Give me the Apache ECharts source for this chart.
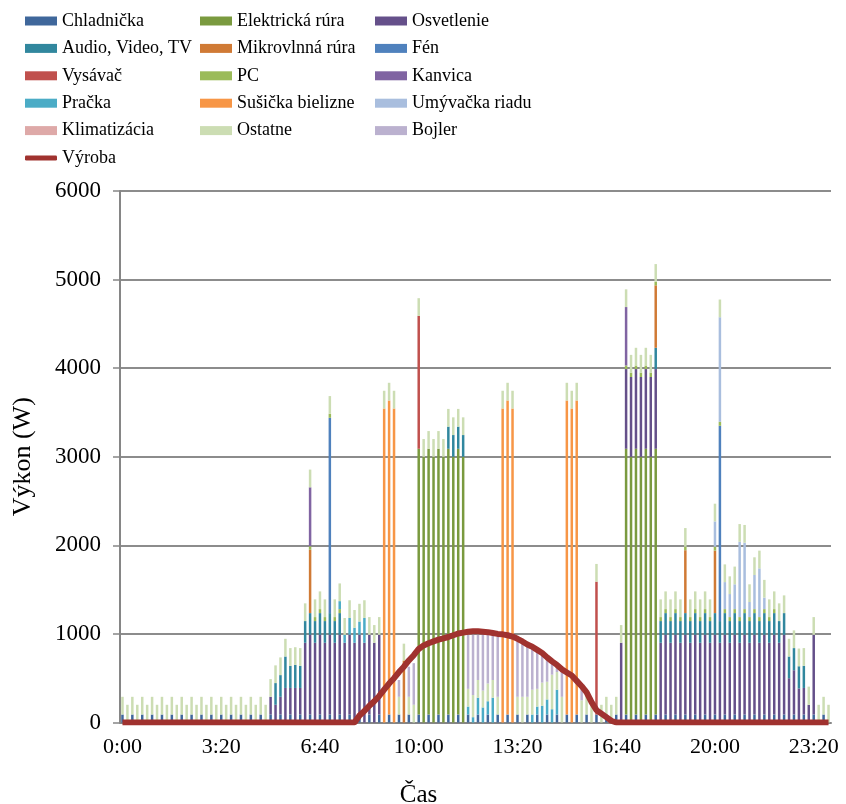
<!DOCTYPE html>
<html><head><meta charset="utf-8">
<script src="https://cdn.jsdelivr.net/npm/echarts@6/dist/echarts.min.js"></script>
<style>html,body{margin:0;padding:0;background:#fff}#c{width:846px;height:804px}</style>
</head><body><div id="c"></div>
<script>
// 144 ten-minute slots 0:00 .. 23:50
const tickLabels = ['0:00','3:20','6:40','10:00','13:20','16:40','20:00','23:20'];
const chladnicka = [
90,0,90,0,90,0,90,0,90,0,90,0, 90,0,90,0,90,0,90,0,90,0,90,0, 90,0,90,0,90,0,90,0,90,0,90,0,
90,0,90,0,90,0,90,0,90,0,90,0, 90,0,90,0,90,0,90,0,90,0,90,0, 90,0,90,0,90,0,90,0,90,0,90,0,
90,0,90,0,90,0,90,0,90,0,90,0, 90,0,90,0,90,0,90,0,90,0,90,0, 90,0,90,0,90,0,90,0,90,0,90,0,
90,0,90,0,90,0,90,0,90,0,90,0, 90,0,90,0,90,0,90,0,90,0,90,0, 90,0,90,0,90,0,90,0,90,0,90,0];
const elektrickaRura = [
0,0,0,0,0,0,0,0,0,0,0,0, 0,0,0,0,0,0,0,0,0,0,0,0, 0,0,0,0,0,0,0,0,0,0,0,0,
0,0,0,0,0,0,0,0,0,0,0,0, 0,0,0,0,0,0,0,0,0,0,0,0, 3000,3000,3000,3000,3000,3000,3000,3000,3000,3000,0,0,
0,0,0,0,0,0,0,0,0,0,0,0, 0,0,0,0,0,0,0,0,0,0,0,0, 0,0,0,0,0,0,3000,3000,3000,3000,3000,3000,
3000,0,0,0,0,0,0,0,0,0,0,0, 0,0,0,0,0,0,0,0,0,0,0,0, 0,0,0,0,0,0,0,0,0,0,0,0];
const osvetlenie = [
0,0,0,0,0,0,0,0,0,0,0,0, 0,0,0,0,0,0,0,0,0,0,0,0, 0,0,0,0,0,0,200,200,200,390,300,390,
300,900,900,900,900,900,900,900,900,900,900,900, 900,900,900,900,900,0,0,0,0,0,0,0, 0,0,0,0,0,0,0,0,0,0,0,0,
0,0,0,0,0,0,0,0,0,0,0,0, 0,0,0,0,0,0,0,0,0,0,0,0, 0,0,0,0,0,900,900,900,900,900,900,900,
900,900,900,900,900,900,900,900,900,900,900,900, 900,900,900,900,900,900,900,900,900,900,900,900, 900,900,900,500,500,385,300,200,900,0,0,0];
const audio = [
0,0,0,0,0,0,0,0,0,0,0,0, 0,0,0,0,0,0,0,0,0,0,0,0, 0,0,0,0,0,0,0,245,245,355,250,260,
250,245,245,245,245,245,245,245,245,0,0,0, 0,0,0,0,0,0,0,0,0,0,0,0, 0,0,0,0,0,0,250,245,250,245,0,0,
0,0,0,0,0,0,0,0,0,0,0,0, 0,0,0,0,0,0,0,0,0,0,0,0, 0,0,0,0,0,0,0,0,0,0,0,0,
240,245,245,245,245,245,245,245,245,245,245,245, 245,245,245,245,245,245,245,245,245,245,245,245, 245,245,245,245,250,250,250,0,0,0,0,0];
const mikrovlnna = [
0,0,0,0,0,0,0,0,0,0,0,0, 0,0,0,0,0,0,0,0,0,0,0,0, 0,0,0,0,0,0,0,0,0,0,0,0,
0,0,715,0,0,0,0,0,0,0,0,0, 0,0,0,0,0,0,0,0,0,700,0,0, 0,0,0,0,0,0,0,0,0,0,0,0,
0,0,0,0,0,0,0,0,0,0,0,0, 0,0,0,0,0,0,0,0,0,0,0,0, 0,0,0,0,0,0,0,0,0,0,0,0,
705,0,0,0,0,0,710,0,0,0,0,0, 705,0,0,0,0,0,0,0,0,0,0,0, 0,0,0,0,0,0,0,0,0,0,0,0];
const fen = [
0,0,0,0,0,0,0,0,0,0,0,0, 0,0,0,0,0,0,0,0,0,0,0,0, 0,0,0,0,0,0,0,0,0,0,0,0,
0,0,0,0,0,0,2205,0,0,0,0,0, 0,0,0,0,0,0,0,0,0,0,0,0, 0,0,0,0,0,0,0,0,0,0,0,0,
0,0,0,0,0,0,0,0,0,0,0,0, 0,0,0,0,0,0,0,0,0,0,0,0, 0,0,0,0,0,0,0,0,0,0,0,0,
0,0,0,0,0,0,0,0,0,0,0,0, 0,2205,0,0,0,0,0,0,0,0,0,0, 0,0,0,0,0,0,0,0,0,0,0,0];
const vysavac = [
0,0,0,0,0,0,0,0,0,0,0,0, 0,0,0,0,0,0,0,0,0,0,0,0, 0,0,0,0,0,0,0,0,0,0,0,0,
0,0,0,0,0,0,0,0,0,0,0,0, 0,0,0,0,0,0,0,0,0,0,0,0, 1500,0,0,0,0,0,0,0,0,0,0,0,
0,0,0,0,0,0,0,0,0,0,0,0, 0,0,0,0,0,0,0,0,0,0,0,0, 1500,0,0,0,0,0,0,0,0,0,0,0,
0,0,0,0,0,0,0,0,0,0,0,0, 0,0,0,0,0,0,0,0,0,0,0,0, 0,0,0,0,0,0,0,0,0,0,0,0];
const pc = [
0,0,0,0,0,0,0,0,0,0,0,0, 0,0,0,0,0,0,0,0,0,0,0,0, 0,0,0,0,0,0,0,0,0,0,0,0,
0,0,40,45,45,45,45,45,45,0,0,0, 0,0,0,0,0,0,0,0,0,0,0,0, 0,0,0,0,0,0,0,0,0,0,0,0,
0,0,0,0,0,0,0,0,0,0,0,0, 0,0,0,0,0,0,0,0,0,0,0,0, 0,0,0,0,0,0,40,50,40,50,40,50,
40,45,45,45,45,45,40,45,45,45,45,45, 45,45,45,45,45,45,45,45,45,45,45,45, 45,0,0,0,0,0,0,0,0,0,0,0];
const kanvica = [
0,0,0,0,0,0,0,0,0,0,0,0, 0,0,0,0,0,0,0,0,0,0,0,0, 0,0,0,0,0,0,0,0,0,0,0,0,
0,0,665,0,0,0,0,0,0,0,0,0, 0,0,0,0,0,0,0,0,0,0,0,0, 0,0,0,0,0,0,0,0,0,0,0,0,
0,0,0,0,0,0,0,0,0,0,0,0, 0,0,0,0,0,0,0,0,0,0,0,0, 0,0,0,0,0,0,660,0,0,0,0,0,
0,0,0,0,0,0,0,0,0,0,0,0, 0,0,0,0,0,0,0,0,0,0,0,0, 0,0,0,0,0,0,0,0,0,0,0,0];
const pracka = [
0,0,0,0,0,0,0,0,0,0,0,0, 0,0,0,0,0,0,0,0,0,0,0,0, 0,0,0,0,0,0,0,0,0,0,0,0,
0,0,0,0,0,0,0,0,90,90,190,170, 150,280,0,0,0,0,0,0,0,0,0,0, 0,0,0,0,0,0,0,0,0,0,90,60,
190,170,150,280,0,0,0,0,0,0,0,90, 90,190,170,150,280,0,0,0,0,0,0,0, 0,0,0,0,0,0,0,0,0,0,0,0,
0,0,0,0,0,0,0,0,0,0,0,0, 0,0,0,0,0,0,0,0,0,0,0,0, 0,0,0,0,0,0,0,0,0,0,0,0];
const susicka = [
0,0,0,0,0,0,0,0,0,0,0,0, 0,0,0,0,0,0,0,0,0,0,0,0, 0,0,0,0,0,0,0,0,0,0,0,0,
0,0,0,0,0,0,0,0,0,0,0,0, 0,0,0,0,0,3545,3545,3545,0,0,0,0, 0,0,0,0,0,0,0,0,0,0,0,0,
0,0,0,0,0,3545,3545,3545,0,0,0,0, 0,0,0,0,0,0,3545,3545,3545,0,0,0, 0,0,0,0,0,0,0,0,0,0,0,0,
0,0,0,0,0,0,0,0,0,0,0,0, 0,0,0,0,0,0,0,0,0,0,0,0, 0,0,0,0,0,0,0,0,0,0,0,0];
const umyvacka = [
0,0,0,0,0,0,0,0,0,0,0,0, 0,0,0,0,0,0,0,0,0,0,0,0, 0,0,0,0,0,0,0,0,0,0,0,0,
0,0,0,0,0,0,0,0,0,0,0,0, 0,0,0,0,0,0,0,0,0,0,0,0, 0,0,0,0,0,0,0,0,0,0,0,0,
0,0,0,0,0,0,0,0,0,0,0,0, 0,0,0,0,0,0,0,0,0,0,0,0, 0,0,0,0,0,0,0,0,0,0,0,0,
0,0,0,0,0,0,0,0,0,0,0,0, 285,1180,305,260,280,850,750,170,385,550,130,0, 0,0,0,0,0,0,0,0,0,0,0,0];
const klimatizacia = [
0,0,0,0,0,0,0,0,0,0,0,0, 0,0,0,0,0,0,0,0,0,0,0,0, 0,0,0,0,0,0,0,0,0,0,0,0,
0,0,0,0,0,0,0,0,0,0,0,0, 0,0,0,0,0,0,0,0,0,0,0,0, 0,0,0,0,0,0,0,0,0,0,0,0,
0,0,0,0,0,0,0,0,0,0,0,0, 0,0,0,0,0,0,0,0,0,0,0,0, 0,0,0,0,0,0,0,0,0,0,0,0,
0,0,0,0,0,0,0,0,0,0,0,0, 0,0,0,0,0,0,0,0,0,0,0,0, 0,0,0,0,0,0,0,0,0,0,0,0];
const ostatne = [
200,200,200,200,200,200,200,200,200,200,200,200, 200,200,200,200,200,200,200,200,200,200,200,200, 200,200,200,200,200,200,200,200,200,200,200,200,
200,200,200,200,200,200,200,200,200,190,200,200, 200,200,200,200,200,200,200,200,200,190,200,200, 200,200,200,200,200,200,200,200,200,200,200,250,
200,190,200,200,200,200,200,200,200,290,200,280, 200,260,200,390,200,290,200,200,200,250,200,280, 200,200,200,200,200,200,200,200,200,200,200,200,
200,200,200,200,200,200,210,200,200,200,200,200, 200,200,200,200,200,200,200,200,200,200,200,200, 200,200,200,200,200,200,200,205,200,200,200,200];
const bojler = [
0,0,0,0,0,0,0,0,0,0,0,0, 0,0,0,0,0,0,0,0,0,0,0,0, 0,0,0,0,0,0,0,0,0,0,0,0,
0,0,0,0,0,0,0,0,0,0,0,0, 0,0,0,0,0,0,0,0,190,0,340,470, 0,0,0,0,0,0,0,0,0,0,610,680,
510,630,550,510,700,0,0,0,620,595,565,470, 425,310,265,150,50,285,0,0,0,150,90,0, 0,0,0,0,0,0,0,0,0,0,0,0,
0,0,0,0,0,0,0,0,0,0,0,0, 0,0,0,0,0,0,0,0,0,0,0,0, 0,0,0,0,0,0,0,0,0,0,0,0];
const vyroba = [
0,0,0,0,0,0,0,0,0,0,0,0, 0,0,0,0,0,0,0,0,0,0,0,0, 0,0,0,0,0,0,0,0,0,0,0,0,
0,0,0,0,0,0,0,0,0,0,0,0, 80,130,190,240,300,370,440,500,570,630,700,760, 830,870,895,915,935,950,965,985,1005,1015,1025,1030,
1030,1025,1020,1010,1000,995,985,970,945,915,880,855, 820,785,735,690,650,600,565,530,470,410,340,230, 140,100,60,20,0,0,0,0,0,0,0,0,
0,0,0,0,0,0,0,0,0,0,0,0, 0,0,0,0,0,0,0,0,0,0,0,0, 0,0,0,0,0,0,0,0,0,0,0,0];

const categories = [];
for (let i = 0; i < 144; i++) {
  const h = Math.floor(i / 6), m = (i % 6) * 10;
  categories.push(h + ':' + (m < 10 ? '0' : '') + m);
}

const barDefs = [
  ['Chladnička', chladnicka, '#3F679B'],
  ['Elektrická rúra', elektrickaRura, '#7A9A3F'],
  ['Osvetlenie', osvetlenie, '#65508A'],
  ['Audio, Video, TV', audio, '#31879E'],
  ['Mikrovlnná rúra', mikrovlnna, '#D07A35'],
  ['Fén', fen, '#4F81BD'],
  ['Vysávač', vysavac, '#C0504D'],
  ['PC', pc, '#9BBB59'],
  ['Kanvica', kanvica, '#8064A2'],
  ['Pračka', pracka, '#4BACC6'],
  ['Sušička bielizne', susicka, '#F79646'],
  ['Umývačka riadu', umyvacka, '#A9BEDE'],
  ['Klimatizácia', klimatizacia, '#DEA9A8'],
  ['Ostatne', ostatne, '#CCDDB3'],
  ['Bojler', bojler, '#BBB1CF']
];
const font = 'Liberation Serif';
const series = barDefs.map(d => ({
  name: d[0], type: 'bar', stack: 'total', data: d[1], barWidth: 2.5,
  itemStyle: {color: d[2]}, emphasis: {disabled: true}
}));
series.push({
  name: 'Výroba', type: 'line', data: vyroba, symbol: 'none', showSymbol: false,
  lineStyle: {color: '#A0322F', width: 6}, itemStyle: {color: '#A0322F'}, z: 10
});

const legendCommon = {
  orient: 'vertical', top: 11, itemWidth: 32, itemHeight: 9, itemGap: 7.4, padding: 0,
  icon: 'rect',
  textStyle: {fontFamily: font, fontSize: 18, color: '#000', lineHeight: 20}
};
const chart = echarts.init(document.getElementById('c'), null, {renderer: 'canvas'});
chart.setOption({
  animation: false,
  backgroundColor: '#fff',
  legend: [
    Object.assign({}, legendCommon, {left: 25, data: ['Chladnička','Audio, Video, TV','Vysávač','Pračka','Klimatizácia']}),
    Object.assign({}, legendCommon, {left: 200, data: ['Elektrická rúra','Mikrovlnná rúra','PC','Sušička bielizne','Ostatne']}),
    Object.assign({}, legendCommon, {left: 375, data: ['Osvetlenie','Fén','Kanvica','Umývačka riadu','Bojler']}),
    Object.assign({}, legendCommon, {left: 25, top: 148, itemHeight: 5, icon: 'roundRect', data: ['Výroba']})
  ],
  grid: {left: 120, right: 15, top: 191, bottom: 81.5, containLabel: false, outerBoundsMode: 'none'},
  xAxis: {
    type: 'category', data: categories,
    name: 'Čas', nameLocation: 'middle', nameGap: 60,
    nameTextStyle: {fontFamily: font, fontSize: 25, color: '#000', padding: [0, 114, 0, 0]},
    axisLine: {lineStyle: {color: '#868686', width: 2}},
    axisTick: {interval: 0, length: 6, lineStyle: {color: '#868686', width: 1.5}},
    axisLabel: {
      interval: 0, fontFamily: font, fontSize: 22, color: '#000', margin: 14,
      formatter: (v) => tickLabels.indexOf(v) >= 0 ? v : ''
    }
  },
  yAxis: {
    type: 'value', min: 0, max: 6000, interval: 1000,
    name: 'Výkon (W)', nameLocation: 'middle', nameGap: 84,
    nameTextStyle: {fontFamily: font, fontSize: 26, color: '#000'},
    axisLine: {show: true, lineStyle: {color: '#868686', width: 2}},
    axisTick: {show: true, length: 7, lineStyle: {color: '#868686', width: 1.5}},
    axisLabel: {fontFamily: font, fontSize: 23, color: '#000', margin: 19, formatter: (v) => String(v)},
    splitLine: {lineStyle: {color: '#8C8C8C', width: 2}}
  },
  series: series
});
</script></body></html>
